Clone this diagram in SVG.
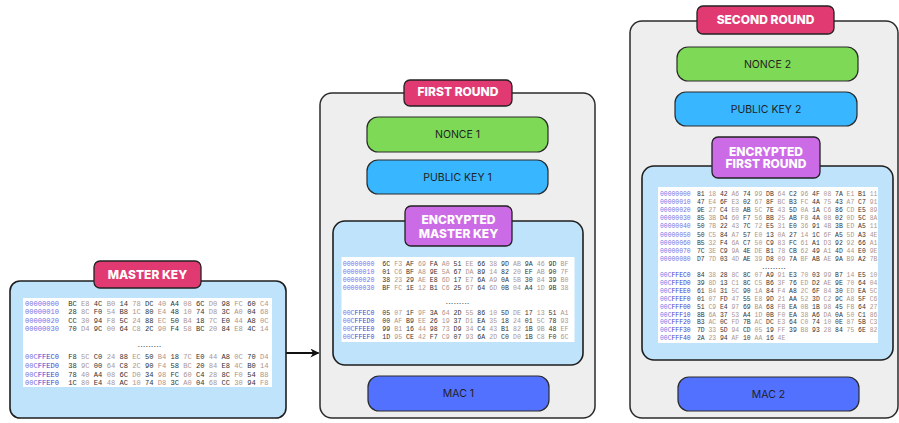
<svg xmlns="http://www.w3.org/2000/svg" width="899" height="423" viewBox="0 0 899 423">
<style>
.bg{fill:#ffffff}
.outer{fill:#eeeeee;stroke:#2b2b2b;stroke-width:1.5}
.inner{fill:#bfe3fb;stroke:#1e1e1e;stroke-width:1.6}
.white{fill:#ffffff}
.pink{fill:#e13a72;stroke:#222;stroke-width:1.3}
.purple{fill:#cb6ce6;stroke:#222;stroke-width:1.3}
.green{fill:#7ed957;stroke:#2a2a2a;stroke-width:1.2}
.blue{fill:#38b6ff;stroke:#2a2a2a;stroke-width:1.2}
.mac{fill:#5271ff;stroke:#2a2a2a;stroke-width:1.2}
.lab{font-family:Inter,"Liberation Sans",sans-serif;font-weight:800;font-size:12px;fill:#ffffff;text-anchor:middle}
.txt{font-family:Inter,"Liberation Sans",sans-serif;font-weight:400;font-size:10.5px;fill:#1f1f1f;text-anchor:middle}
.hex{font-family:"Liberation Mono","DejaVu Sans Mono",monospace}
.m{font-size:7.1px}
.f{font-size:6.6px}
.s{font-size:6.4px}
.a{fill:#7373e8}
.ab{fill:#4444cc}
.d{fill:#333333}
.l{fill:#ab9690}
.dots{font-family:"Liberation Sans",sans-serif;font-weight:bold;font-size:6px;letter-spacing:1px;fill:#222;text-anchor:middle}
</style>
<defs>
<marker id="arr" viewBox="0 0 10 10" refX="9" refY="5" markerWidth="4.5" markerHeight="4.5" orient="auto" markerUnits="strokeWidth">
<path d="M0,0 L10,5 L0,10 L3,5 z" fill="#111"/>
</marker>
</defs>
<rect class="bg" x="0" y="0" width="899" height="423"/>

<g id="connectors">
<line x1="286" y1="353" x2="318.5" y2="353" stroke="#111" stroke-width="2" marker-end="url(#arr)"/>
</g>

<g id="master-key">
<rect class="inner" x="10" y="281" width="276" height="137" rx="10"/>
<rect class="white" x="23" y="298" width="249" height="89"/>
<g class="hex m">
<text class="a" x="25" y="305.6">00000000</text>
<text class="a" x="25" y="314.2">00000010</text>
<text class="a" x="25" y="322.8">00000020</text>
<text class="a" x="25" y="331.4">00000030</text>
<text class="a" x="25" y="359.3">00C<tspan class="ab">FFEC0</tspan></text>
<text class="a" x="25" y="367.9">00C<tspan class="ab">FFED0</tspan></text>
<text class="a" x="25" y="376.5">00C<tspan class="ab">FFEE0</tspan></text>
<text class="a" x="25" y="385.1">00C<tspan class="ab">FFEF0</tspan></text>
<text class="d" x="68.3" y="305.6">BC <tspan class="l">E8</tspan> 4C <tspan class="l">B0</tspan> 14 <tspan class="l">78</tspan> DC <tspan class="l">40</tspan> A4 <tspan class="l">08</tspan> 6C <tspan class="l">D0</tspan> 98 <tspan class="l">FC</tspan> 60 <tspan class="l">C4</tspan></text>
<text class="d" x="68.3" y="314.2">28 <tspan class="l">8C</tspan> F0 <tspan class="l">54</tspan> B8 <tspan class="l">1C</tspan> 80 <tspan class="l">E4</tspan> 48 <tspan class="l">10</tspan> 74 <tspan class="l">D8</tspan> 3C <tspan class="l">A0</tspan> 04 <tspan class="l">68</tspan></text>
<text class="d" x="68.3" y="322.8">CC <tspan class="l">30</tspan> 94 <tspan class="l">F8</tspan> 5C <tspan class="l">24</tspan> 88 <tspan class="l">EC</tspan> 50 <tspan class="l">B4</tspan> 18 <tspan class="l">7C</tspan> E0 <tspan class="l">44</tspan> A8 <tspan class="l">0C</tspan></text>
<text class="d" x="68.3" y="331.4">70 <tspan class="l">D4</tspan> 9C <tspan class="l">00</tspan> 64 <tspan class="l">C8</tspan> 2C <tspan class="l">90</tspan> F4 <tspan class="l">58</tspan> BC <tspan class="l">20</tspan> 84 <tspan class="l">E8</tspan> 4C <tspan class="l">14</tspan></text>
<text class="d" x="68.3" y="359.3">F8 <tspan class="l">5C</tspan> C0 <tspan class="l">24</tspan> 88 <tspan class="l">EC</tspan> 50 <tspan class="l">B4</tspan> 18 <tspan class="l">7C</tspan> E0 <tspan class="l">44</tspan> A8 <tspan class="l">0C</tspan> 70 <tspan class="l">D4</tspan></text>
<text class="d" x="68.3" y="367.9">38 <tspan class="l">9C</tspan> 00 <tspan class="l">64</tspan> C8 <tspan class="l">2C</tspan> 90 <tspan class="l">F4</tspan> 58 <tspan class="l">BC</tspan> 20 <tspan class="l">84</tspan> E8 <tspan class="l">4C</tspan> B0 <tspan class="l">14</tspan></text>
<text class="d" x="68.3" y="376.5">78 <tspan class="l">40</tspan> A4 <tspan class="l">08</tspan> 6C <tspan class="l">D0</tspan> 34 <tspan class="l">98</tspan> FC <tspan class="l">60</tspan> C4 <tspan class="l">28</tspan> 8C <tspan class="l">F0</tspan> 54 <tspan class="l">B8</tspan></text>
<text class="d" x="68.3" y="385.1">1C <tspan class="l">80</tspan> E4 <tspan class="l">48</tspan> AC <tspan class="l">10</tspan> 74 <tspan class="l">D8</tspan> 3C <tspan class="l">A0</tspan> 04 <tspan class="l">68</tspan> CC <tspan class="l">30</tspan> 94 <tspan class="l">F8</tspan></text>
</g>
<text class="dots" x="150" y="346.5">.........</text>
<rect class="pink" x="94" y="261" width="107" height="27" rx="6"/>
<text class="lab" x="147.5" y="279.3">MASTER KEY</text>
</g>

<g id="first-round">
<rect class="outer" x="320" y="93" width="275" height="325" rx="12"/>
<rect class="pink" x="404" y="80" width="108" height="26" rx="6"/>
<text class="lab" x="458" y="95.7">FIRST ROUND</text>
</g>
<g id="nonce-1">
<rect class="green" x="367" y="117" width="181" height="35" rx="11"/>
<text class="txt" x="457.5" y="138.3">NONCE 1</text>
</g>
<g id="public-key-1">
<rect class="blue" x="367" y="160" width="181" height="34" rx="11"/>
<text class="txt" x="457.5" y="180.8">PUBLIC KEY 1</text>
</g>
<g id="encrypted-master-key">
<rect class="inner" x="333" y="221" width="250" height="144" rx="12"/>
<rect class="white" x="341.5" y="257" width="233" height="85"/>
<g class="hex f">
<text class="a" x="342.7" y="266.4">00000000</text>
<text class="a" x="342.7" y="274.4">00000010</text>
<text class="a" x="342.7" y="282.4">00000020</text>
<text class="a" x="342.7" y="290.4">00000030</text>
<text class="a" x="342.7" y="315.1">00C<tspan class="ab">FFEC0</tspan></text>
<text class="a" x="342.7" y="323.1">00C<tspan class="ab">FFED0</tspan></text>
<text class="a" x="342.7" y="331.1">00C<tspan class="ab">FFEE0</tspan></text>
<text class="a" x="342.7" y="339.1">00C<tspan class="ab">FFEF0</tspan></text>
<text class="d" x="382.3" y="266.4">6C <tspan class="l">F3</tspan> AF <tspan class="l">69</tspan> FA <tspan class="l">A0</tspan> 51 <tspan class="l">EE</tspan> 66 <tspan class="l">38</tspan> 9D <tspan class="l">AB</tspan> 9A <tspan class="l">46</tspan> 9D <tspan class="l">BF</tspan></text>
<text class="d" x="382.3" y="274.4">01 <tspan class="l">C6</tspan> BF <tspan class="l">A8</tspan> 9E <tspan class="l">5A</tspan> 67 <tspan class="l">DA</tspan> 89 <tspan class="l">14</tspan> 82 <tspan class="l">20</tspan> EF <tspan class="l">AB</tspan> 90 <tspan class="l">7F</tspan></text>
<text class="d" x="382.3" y="282.4">38 <tspan class="l">23</tspan> 29 <tspan class="l">AE</tspan> E8 <tspan class="l">6D</tspan> 17 <tspan class="l">E7</tspan> 6A <tspan class="l">A9</tspan> 0A <tspan class="l">5B</tspan> 30 <tspan class="l">84</tspan> 39 <tspan class="l">B0</tspan></text>
<text class="d" x="382.3" y="290.4">BF <tspan class="l">FC</tspan> 1E <tspan class="l">12</tspan> B1 <tspan class="l">C6</tspan> 25 <tspan class="l">67</tspan> 64 <tspan class="l">6D</tspan> 0B <tspan class="l">04</tspan> A4 <tspan class="l">1D</tspan> 9B <tspan class="l">38</tspan></text>
<text class="d" x="382.3" y="315.1">05 <tspan class="l">07</tspan> 1F <tspan class="l">9F</tspan> 3A <tspan class="l">64</tspan> 2D <tspan class="l">55</tspan> 86 <tspan class="l">10</tspan> 5D <tspan class="l">DE</tspan> 17 <tspan class="l">13</tspan> 51 <tspan class="l">A1</tspan></text>
<text class="d" x="382.3" y="323.1">00 <tspan class="l">AF</tspan> B9 <tspan class="l">EE</tspan> 26 <tspan class="l">19</tspan> 37 <tspan class="l">D1</tspan> EA <tspan class="l">35</tspan> 18 <tspan class="l">24</tspan> 01 <tspan class="l">5C</tspan> 78 <tspan class="l">93</tspan></text>
<text class="d" x="382.3" y="331.1">99 <tspan class="l">B1</tspan> 16 <tspan class="l">44</tspan> 98 <tspan class="l">73</tspan> D9 <tspan class="l">34</tspan> C4 <tspan class="l">43</tspan> B1 <tspan class="l">82</tspan> 1B <tspan class="l">9B</tspan> 48 <tspan class="l">EF</tspan></text>
<text class="d" x="382.3" y="339.1">1D <tspan class="l">95</tspan> CE <tspan class="l">42</tspan> F7 <tspan class="l">C9</tspan> 07 <tspan class="l">93</tspan> 6A <tspan class="l">2D</tspan> C0 <tspan class="l">D0</tspan> 1B <tspan class="l">C8</tspan> F0 <tspan class="l">6C</tspan></text>
</g>
<text class="dots" x="458" y="303.8">.........</text>
<rect class="purple" x="405" y="206" width="107" height="40" rx="6"/>
<text class="lab" x="458.5" y="224.3">ENCRYPTED</text>
<text class="lab" x="458.5" y="237.6">MASTER KEY</text>
</g>
<g id="mac-1">
<rect class="mac" x="368" y="376" width="181" height="35" rx="11"/>
<text class="txt" x="458.5" y="397.3">MAC 1</text>
</g>

<g id="second-round">
<rect class="outer" x="630" y="21" width="268" height="397" rx="12"/>
<rect class="pink" x="697" y="6" width="137" height="28" rx="6"/>
<text class="lab" x="765.5" y="24">SECOND ROUND</text>
</g>
<g id="nonce-2">
<rect class="green" x="677" y="47" width="181" height="34" rx="11"/>
<text class="txt" x="767.5" y="67.8">NONCE 2</text>
</g>
<g id="public-key-2">
<rect class="blue" x="675" y="92" width="182" height="34" rx="11"/>
<text class="txt" x="766" y="112.8">PUBLIC KEY 2</text>
</g>
<g id="encrypted-first-round">
<rect class="inner" x="642" y="166" width="251" height="194" rx="12"/>
<rect class="white" x="658" y="187" width="220" height="156"/>
<g class="hex s">
<text class="a" x="660" y="196">00000000</text>
<text class="a" x="660" y="204.1">00000010</text>
<text class="a" x="660" y="212.2">00000020</text>
<text class="a" x="660" y="220.3">00000030</text>
<text class="a" x="660" y="228.4">00000040</text>
<text class="a" x="660" y="236.5">00000050</text>
<text class="a" x="660" y="244.6">00000060</text>
<text class="a" x="660" y="252.7">00000070</text>
<text class="a" x="660" y="260.8">00000080</text>
<text class="a" x="660" y="277">00C<tspan class="ab">FFEC0</tspan></text>
<text class="a" x="660" y="284.9">00C<tspan class="ab">FFED0</tspan></text>
<text class="a" x="660" y="292.8">00C<tspan class="ab">FFEE0</tspan></text>
<text class="a" x="660" y="300.7">00C<tspan class="ab">FFEF0</tspan></text>
<text class="a" x="660" y="308.6">00C<tspan class="ab">FFF00</tspan></text>
<text class="a" x="660" y="316.5">00C<tspan class="ab">FFF10</tspan></text>
<text class="a" x="660" y="324.4">00C<tspan class="ab">FFF20</tspan></text>
<text class="a" x="660" y="332.3">00C<tspan class="ab">FFF30</tspan></text>
<text class="a" x="660" y="340.2">00C<tspan class="ab">FFF40</tspan></text>
<text class="d" x="697" y="196">81 <tspan class="l">18</tspan> 42 <tspan class="l">A6</tspan> 74 <tspan class="l">99</tspan> DB <tspan class="l">64</tspan> C2 <tspan class="l">96</tspan> 4F <tspan class="l">08</tspan> 7A <tspan class="l">E1</tspan> B1 <tspan class="l">11</tspan></text>
<text class="d" x="697" y="204.1">47 <tspan class="l">E4</tspan> 6F <tspan class="l">E3</tspan> 02 <tspan class="l">67</tspan> 8F <tspan class="l">BC</tspan> B3 <tspan class="l">FC</tspan> 4A <tspan class="l">75</tspan> 43 <tspan class="l">A7</tspan> C7 <tspan class="l">91</tspan></text>
<text class="d" x="697" y="212.2">9E <tspan class="l">27</tspan> C4 <tspan class="l">E0</tspan> AB <tspan class="l">5C</tspan> 7E <tspan class="l">43</tspan> 5D <tspan class="l">0A</tspan> 1A <tspan class="l">C6</tspan> 86 <tspan class="l">CD</tspan> E5 <tspan class="l">89</tspan></text>
<text class="d" x="697" y="220.3">85 <tspan class="l">3B</tspan> D4 <tspan class="l">60</tspan> F7 <tspan class="l">56</tspan> BB <tspan class="l">25</tspan> AB <tspan class="l">F8</tspan> 4A <tspan class="l">08</tspan> 02 <tspan class="l">0D</tspan> 5C <tspan class="l">8A</tspan></text>
<text class="d" x="697" y="228.4">50 <tspan class="l">7B</tspan> 22 <tspan class="l">43</tspan> 7C <tspan class="l">72</tspan> E5 <tspan class="l">31</tspan> E0 <tspan class="l">36</tspan> 91 <tspan class="l">4B</tspan> 3B <tspan class="l">ED</tspan> A5 <tspan class="l">11</tspan></text>
<text class="d" x="697" y="236.5">50 <tspan class="l">C5</tspan> 84 <tspan class="l">A7</tspan> 57 <tspan class="l">E0</tspan> 13 <tspan class="l">0A</tspan> 27 <tspan class="l">14</tspan> 1C <tspan class="l">6F</tspan> A5 <tspan class="l">5D</tspan> A3 <tspan class="l">4E</tspan></text>
<text class="d" x="697" y="244.6">B5 <tspan class="l">32</tspan> F4 <tspan class="l">6A</tspan> C7 <tspan class="l">50</tspan> C9 <tspan class="l">83</tspan> FC <tspan class="l">61</tspan> A1 <tspan class="l">D3</tspan> 92 <tspan class="l">92</tspan> 66 <tspan class="l">A1</tspan></text>
<text class="d" x="697" y="252.7">7C <tspan class="l">3E</tspan> C9 <tspan class="l">9A</tspan> 4E <tspan class="l">DE</tspan> B1 <tspan class="l">78</tspan> CB <tspan class="l">62</tspan> 49 <tspan class="l">A1</tspan> 4D <tspan class="l">44</tspan> E0 <tspan class="l">9E</tspan></text>
<text class="d" x="697" y="260.8">D7 <tspan class="l">7D</tspan> 03 <tspan class="l">4D</tspan> AE <tspan class="l">39</tspan> D8 <tspan class="l">09</tspan> 7A <tspan class="l">BF</tspan> AB <tspan class="l">AE</tspan> 9A <tspan class="l">B9</tspan> A2 <tspan class="l">7B</tspan></text>
<text class="d" x="697" y="277">84 <tspan class="l">38</tspan> 28 <tspan class="l">8C</tspan> 8C <tspan class="l">07</tspan> A9 <tspan class="l">91</tspan> E3 <tspan class="l">70</tspan> 03 <tspan class="l">99</tspan> B7 <tspan class="l">14</tspan> E5 <tspan class="l">10</tspan></text>
<text class="d" x="697" y="284.9">39 <tspan class="l">8D</tspan> 13 <tspan class="l">C1</tspan> 8C <tspan class="l">C5</tspan> B6 <tspan class="l">3F</tspan> 76 <tspan class="l">ED</tspan> D2 <tspan class="l">AE</tspan> 9E <tspan class="l">70</tspan> 64 <tspan class="l">04</tspan></text>
<text class="d" x="697" y="292.8">61 <tspan class="l">B4</tspan> 31 <tspan class="l">5C</tspan> 90 <tspan class="l">1A</tspan> 84 <tspan class="l">F4</tspan> A8 <tspan class="l">2C</tspan> 6F <tspan class="l">84</tspan> 30 <tspan class="l">ED</tspan> EA <tspan class="l">5C</tspan></text>
<text class="d" x="697" y="300.7">01 <tspan class="l">07</tspan> FD <tspan class="l">47</tspan> 55 <tspan class="l">E8</tspan> 9D <tspan class="l">21</tspan> AA <tspan class="l">52</tspan> 3D <tspan class="l">C2</tspan> 9C <tspan class="l">A8</tspan> 5F <tspan class="l">C6</tspan></text>
<text class="d" x="697" y="308.6">51 <tspan class="l">C9</tspan> E4 <tspan class="l">97</tspan> 69 <tspan class="l">BA</tspan> 68 <tspan class="l">FB</tspan> EA <tspan class="l">0B</tspan> 1B <tspan class="l">98</tspan> 45 <tspan class="l">FB</tspan> 64 <tspan class="l">27</tspan></text>
<text class="d" x="697" y="316.5">8B <tspan class="l">6A</tspan> 37 <tspan class="l">53</tspan> A4 <tspan class="l">1D</tspan> 0B <tspan class="l">F0</tspan> EA <tspan class="l">38</tspan> A6 <tspan class="l">DA</tspan> 0A <tspan class="l">50</tspan> C1 <tspan class="l">86</tspan></text>
<text class="d" x="697" y="324.4">B3 <tspan class="l">AC</tspan> 0C <tspan class="l">FD</tspan> 7B <tspan class="l">AC</tspan> DC <tspan class="l">E3</tspan> 64 <tspan class="l">C0</tspan> 74 <tspan class="l">10</tspan> 0E <tspan class="l">87</tspan> 5B <tspan class="l">C3</tspan></text>
<text class="d" x="697" y="332.3">7D <tspan class="l">33</tspan> 5D <tspan class="l">94</tspan> CD <tspan class="l">05</tspan> 19 <tspan class="l">FF</tspan> 39 <tspan class="l">B8</tspan> 93 <tspan class="l">28</tspan> 84 <tspan class="l">75</tspan> 6E <tspan class="l">82</tspan></text>
<text class="d" x="697" y="340.2">2A <tspan class="l">23</tspan> 94 <tspan class="l">AF</tspan> 10 <tspan class="l">AA</tspan> 16 <tspan class="l">4E</tspan></text>
</g>
<text class="dots" x="774.5" y="268.5">.........</text>
<rect class="purple" x="712" y="137" width="108" height="41" rx="6"/>
<text class="lab" x="766" y="156">ENCRYPTED</text>
<text class="lab" x="766" y="168.3">FIRST ROUND</text>
</g>
<g id="mac-2">
<rect class="mac" x="678" y="377" width="181" height="34" rx="11"/>
<text class="txt" x="768.5" y="397.8">MAC 2</text>
</g>
</svg>
